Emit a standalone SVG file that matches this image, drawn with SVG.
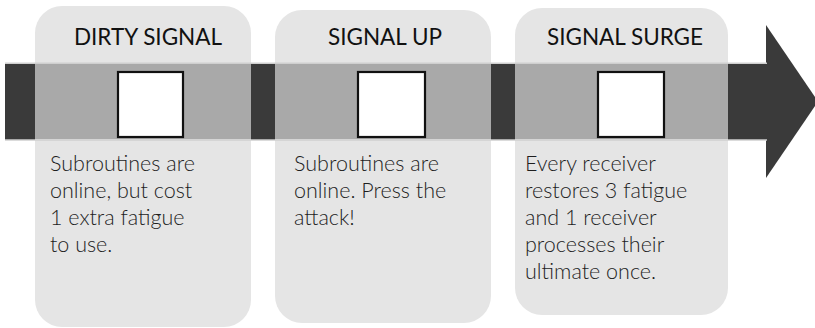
<svg xmlns="http://www.w3.org/2000/svg" width="815" height="328" viewBox="0 0 815 328">
<style>
.card{fill:#e5e5e5}
.band{fill:#a9a9a9}
.edge{stroke:#cfcfcf;stroke-width:1.5}
.sq{fill:#ffffff;stroke:#111111;stroke-width:2.2}
.title{font-family:"Lato","Liberation Sans",sans-serif;font-size:22.5px;fill:#111111;text-anchor:middle}
.body{font-family:"Lato","Liberation Sans",sans-serif;font-weight:300;font-size:21.5px;fill:#1e1e1e}
</style>
<rect width="815" height="328" fill="#ffffff"/>
<g id="arrow">
<rect x="5" y="63" width="762" height="77" fill="#3a3a3a"/>
<polygon points="766,25 818,101.5 766,178" fill="#3a3a3a"/>
<line x1="5" y1="63.2" x2="767" y2="63.2" class="edge"/>
<line x1="5" y1="140" x2="767" y2="140" class="edge"/>
</g>
<g id="card-dirty-signal">
<rect class="card" x="35" y="6" width="216" height="321" rx="27"/>
<rect class="band" x="35" y="64" width="216" height="75"/>
<line x1="35" y1="63.2" x2="251" y2="63.2" class="edge"/>
<line x1="35" y1="140" x2="251" y2="140" class="edge"/>
<rect class="sq" x="118" y="72" width="65" height="65"/>
<text class="title" x="148" y="45">DIRTY SIGNAL</text>
<text class="body"><tspan x="50" y="171">Subroutines are</tspan><tspan x="50" y="198">online, but cost</tspan><tspan x="50" y="225">1 extra fatigue</tspan><tspan x="50" y="252">to use.</tspan></text>
</g>
<g id="card-signal-up">
<rect class="card" x="275" y="10" width="216" height="313" rx="27"/>
<rect class="band" x="275" y="64" width="216" height="75"/>
<line x1="275" y1="63.2" x2="491" y2="63.2" class="edge"/>
<line x1="275" y1="140" x2="491" y2="140" class="edge"/>
<rect class="sq" x="358" y="72" width="67" height="65"/>
<text class="title" x="385" y="45">SIGNAL UP</text>
<text class="body"><tspan x="294" y="171">Subroutines are</tspan><tspan x="294" y="198">online. Press the</tspan><tspan x="294" y="225">attack!</tspan></text>
</g>
<g id="card-signal-surge">
<rect class="card" x="515" y="8" width="213" height="307" rx="27"/>
<rect class="band" x="515" y="64" width="213" height="75"/>
<line x1="515" y1="63.2" x2="728" y2="63.2" class="edge"/>
<line x1="515" y1="140" x2="728" y2="140" class="edge"/>
<rect class="sq" x="598" y="72" width="66" height="65"/>
<text class="title" x="625" y="45">SIGNAL SURGE</text>
<text class="body"><tspan x="525" y="171">Every receiver</tspan><tspan x="525" y="198">restores 3 fatigue</tspan><tspan x="525" y="225">and 1 receiver</tspan><tspan x="525" y="252">processes their</tspan><tspan x="525" y="279">ultimate once.</tspan></text>
</g>
</svg>
